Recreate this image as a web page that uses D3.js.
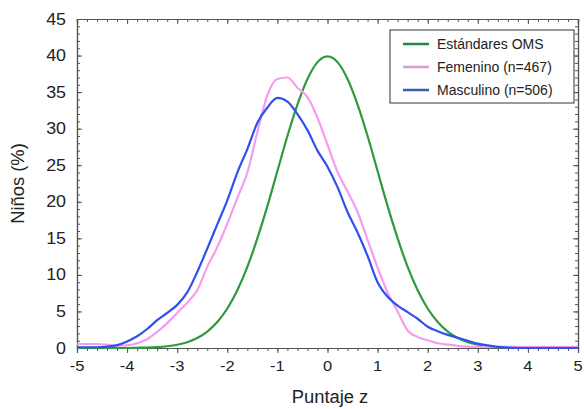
<!DOCTYPE html>
<html>
<head>
<meta charset="utf-8">
<script src="https://cdn.jsdelivr.net/npm/d3@7"></script>
<style>
    body { margin: 0; background: #fff; }
    svg { font-family: "Liberation Sans", Arial, sans-serif; }
</style>
</head>
<body>
<svg width="584" height="409"></svg>
<script>
// z-score grid (step 0.2)
var zValues = d3.range(51).map(function (i) { return Math.round((-5 + i * 0.2) * 10) / 10; });

// Estándares OMS
var oms = [0, 0, 0, 0, 0, 0, 0.03, 0.06, 0.12, 0.24,
    0.44, 0.79, 1.36, 2.24, 3.55, 5.4, 7.9, 11.1, 15.0, 19.4,
    24.2, 29.0, 33.3, 36.8, 39.1, 39.9, 39.1, 36.8, 33.3, 29.0,
    24.2, 19.4, 15.0, 11.1, 7.9, 5.4, 3.55, 2.24, 1.36, 0.79,
    0.44, 0.24, 0.12, 0.06, 0.03, 0, 0, 0, 0, 0, 0];

// Femenino (n=467)
var femenino = [0.55, 0.55, 0.55, 0.45, 0.3, 0.35, 0.65, 1.2, 2.2, 3.4,
    4.8, 6.2, 7.9, 11.1, 13.8, 17.0, 20.5, 24.0, 29.5, 34.6,
    36.8, 37.0, 35.6, 34.3, 31.5, 27.8, 24.1, 21.4, 18.6, 14.8,
    11.0, 7.6, 5.0, 2.4, 1.5, 1.05, 0.65, 0.45, 0.3, 0.2,
    0.15, 0.15, 0.15, 0.15, 0.15, 0.15, 0.15, 0.15, 0.15, 0.15, 0.15];

// Masculino (n=506)
var masculino = [0.1, 0.1, 0.1, 0.2, 0.4, 0.9, 1.6, 2.6, 3.8, 4.8,
    5.9, 7.6, 10.4, 13.6, 16.9, 20.2, 24.0, 27.2, 30.8, 32.9,
    34.2, 33.7, 32.0, 29.8, 27.0, 24.8, 22.0, 18.6, 15.8, 12.6,
    9.0, 7.0, 5.8, 4.9, 4.0, 2.9, 2.3, 1.8, 1.4, 1.0,
    0.6, 0.35, 0.15, 0.05, 0, 0, 0, 0, 0, 0, 0];

var seriesNames = ["Estándares OMS", "Femenino (n=467)", "Masculino (n=506)"];
var xTicks = [-5, -4, -3, -2, -1, 0, 1, 2, 3, 4, 5];
var yTicks = [0, 5, 10, 15, 20, 25, 30, 35, 40, 45];

var svg = d3.select("svg");
var margin = { left: 77, top: 19, right: 6, bottom: 61 };
var width = 584 - margin.left - margin.right,
    height = 409 - margin.top - margin.bottom;

var x = d3.scaleLinear().domain([-5, 5]).range([0, width]);
var y = d3.scaleLinear().domain([0, 45]).range([height, 0]);

var g = svg.append("g").attr("transform", "translate(" + margin.left + "," + margin.top + ")");

var axisColor = "#555";
var textColor = "#222";

// frame + ticks (bottom ones hang outside, the rest point inward)
function tickAxis(axisFn, scale, major, minorStep, transform) {
    var minor = d3.range(scale.domain()[0], scale.domain()[1] + 1e-9, minorStep);
    var a1 = g.append("g").attr("transform", transform)
        .call(axisFn(scale).tickValues(minor).tickSize(3).tickFormat(""));
    var a2 = g.append("g").attr("transform", transform)
        .call(axisFn(scale).tickValues(major).tickSize(5).tickFormat(""));
    [a1, a2].forEach(function (a) {
        a.select(".domain").attr("stroke", axisColor).attr("stroke-width", 1.2);
        a.selectAll(".tick line").attr("stroke", axisColor);
    });
}
tickAxis(d3.axisBottom, x, xTicks, 0.2, "translate(0," + height + ")");
tickAxis(d3.axisBottom, x, xTicks, 0.2, "translate(0,0)");
tickAxis(d3.axisRight, y, yTicks, 1, "translate(0,0)");
tickAxis(d3.axisLeft, y, yTicks, 1, "translate(" + width + ",0)");

// tick labels
g.selectAll(".xlab").data(xTicks).enter().append("text")
    .attr("transform", function (d) { return "translate(" + x(d) + "," + (height + 23) + ") scale(1.1,1)"; })
    .attr("text-anchor", "middle")
    .attr("font-size", 15)
    .attr("fill", textColor)
    .text(function (d) { return d; });

g.selectAll(".ylab").data(yTicks).enter().append("text")
    .attr("transform", function (d) { return "translate(-11," + (y(d) + 5.5) + ") scale(1.05,1)"; })
    .attr("text-anchor", "end")
    .attr("font-size", 17)
    .attr("fill", textColor)
    .text(function (d) { return d; });

// axis titles
svg.append("text")
    .attr("transform", "translate(330,403) scale(1.05,1)")
    .attr("text-anchor", "middle")
    .attr("font-size", 17.5)
    .attr("fill", textColor)
    .text("Puntaje z");

svg.append("text")
    .attr("transform", "translate(24," + (margin.top + height / 2) + ") rotate(-90) scale(1.05,1)")
    .attr("text-anchor", "middle")
    .attr("font-size", 17.5)
    .attr("fill", textColor)
    .text("Niños (%)");

// lines
var line = d3.line()
    .x(function (d, i) { return x(zValues[i]); })
    .y(function (d) { return y(d); })
    .curve(d3.curveMonotoneX);

var lineColors = ["#2e9a3e", "#f59cf0", "#2f50ee"];
[oms, femenino, masculino].forEach(function (s, i) {
    g.append("path")
        .datum(s)
        .attr("d", line)
        .attr("fill", "none")
        .attr("stroke", lineColors[i])
        .attr("stroke-width", 2.2)
        .attr("stroke-linejoin", "round");
});

// legend
var legendColors = ["#1f8a3c", "#d998d6", "#3b5cb3"];
var legend = svg.append("g").attr("transform", "translate(390,30)");
legend.append("rect")
    .attr("width", 184).attr("height", 73)
    .attr("fill", "#fff").attr("stroke", "#333").attr("stroke-width", 1);
seriesNames.forEach(function (name, i) {
    var ly = 14 + i * 23;
    legend.append("line")
        .attr("x1", 13).attr("x2", 39)
        .attr("y1", ly).attr("y2", ly)
        .attr("stroke", legendColors[i]).attr("stroke-width", 2.5);
    legend.append("text")
        .attr("x", 47).attr("y", ly + 5)
        .attr("font-size", 14)
        .attr("fill", textColor)
        .text(name);
});
</script>
</body>
</html>
